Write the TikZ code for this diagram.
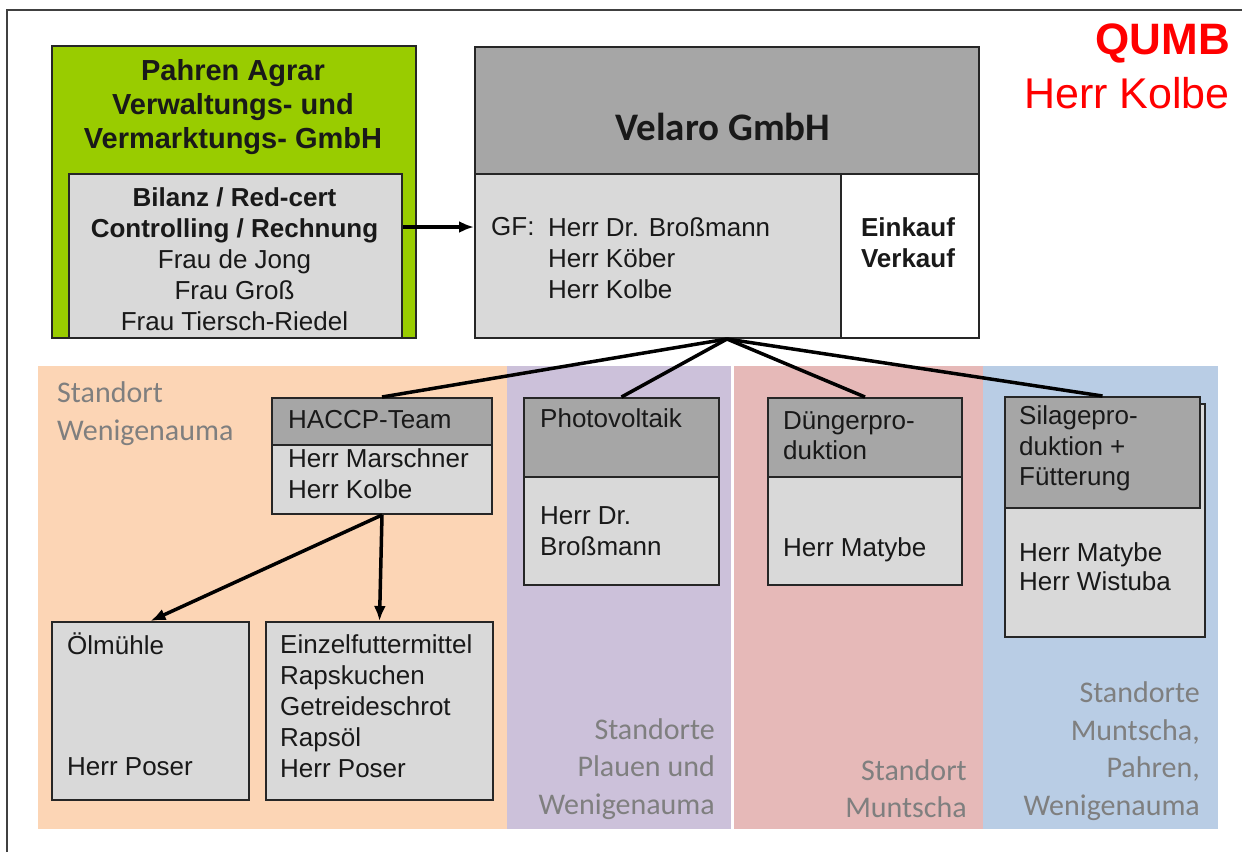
\documentclass[tikz,border=0pt]{standalone}
\usepackage{fontspec}
\setmainfont{Liberation Sans}
\newfontfamily\calibri{Carlito}
\usepackage{tikz}
\usetikzlibrary{arrows.meta}
\definecolor{agrargreen}{RGB}{153,204,0}
\definecolor{bodygray}{RGB}{217,217,217}
\definecolor{headgray}{RGB}{166,166,166}
\definecolor{bgorange}{RGB}{252,213,181}
\definecolor{bgpurple}{RGB}{204,193,218}
\definecolor{bgred}{RGB}{230,185,184}
\definecolor{bgblue}{RGB}{185,205,229}
\definecolor{placegray}{RGB}{127,127,127}
\definecolor{inkblack}{RGB}{25,25,25}
\newcommand{\boxfont}{\fontsize{26}{31}\selectfont}
\newcommand{\placefont}{\calibri\fontsize{30}{37.5}\selectfont}

\begin{document}
\begin{tikzpicture}[x=1pt,y=-1pt,
  box/.style={draw=black!85, line width=2pt, fill=bodygray, anchor=north west, inner sep=0pt},
  headbox/.style={box, fill=headgray},
  txt/.style={anchor=west, align=left, inner sep=0pt, font=\boxfont, text=inkblack},
  place/.style={inner sep=0pt, font=\placefont, text=placegray},
  link/.style={line width=3.5pt, black},
  pointer/.style={line width=3.5pt, black, -{Latex[length=15pt,width=12pt]}}]
\useasboundingbox (0,0) rectangle (1242,852);
\draw[line width=2pt, black!75] (7,852) -- (7,10) -- (1242,10);

% Standorte
\fill[bgorange] (38,366) rectangle (507,829);
\fill[bgpurple] (507,366) rectangle (731,829);
\fill[bgred] (734,366) rectangle (983,829);
\fill[bgblue] (983,366) rectangle (1218,829);
\node[place, anchor=west, align=left] (lblwen) at (57,413.5) {Standort\\Wenigenauma};
\node[place, anchor=east, align=right] (lblplauen) at (715,769) {Standorte\\Plauen und\\Wenigenauma};
\node[place, anchor=east, align=right] (lblmuntscha) at (967,788.5) {Standort\\Muntscha};
\node[place, anchor=east, align=right] (lblpahren) at (1200,751) {Standorte\\Muntscha,\\Pahren,\\Wenigenauma};

% QUMB
\node[inner sep=0pt, anchor=east, text=red, font=\bfseries\fontsize{44}{44}\selectfont] (qumb) at (1230,43) {QUMB};
\node[inner sep=0pt, anchor=east, text=red, font=\fontsize{43}{43}\selectfont] (qkolbe) at (1230,93) {Herr Kolbe};

% Pahren Agrar
\node[box, fill=agrargreen, minimum width=364, minimum height=292] (agrar) at (51,45) {};
\node[inner sep=0pt, align=center, text=inkblack, font=\bfseries\fontsize{29}{34}\selectfont] (agrartitle) at (233,107)
  {Pahren Agrar\\Verwaltungs- und\\Vermarktungs- GmbH};
\node[box, minimum width=333, minimum height=164] (bilanz) at (68,173) {};
\node[inner sep=0pt, align=center, text=inkblack, font=\boxfont] (bilanztext) at (234.5,259)
  {\textbf{Bilanz / Red-cert}\\\textbf{Controlling / Rechnung}\\Frau de Jong\\Frau Groß\\Frau Tiersch-Riedel};

% Velaro
\node[box, fill=white, minimum width=504, minimum height=291] (velaro) at (474,46) {};
\node[headbox, minimum width=504, minimum height=127] (velarohead) at (474,46) {};
\node[box, minimum width=366, minimum height=164] (velarogf) at (474,173) {};
\node[inner sep=0pt, text=inkblack, font=\calibri\bfseries\fontsize{39}{39}\selectfont] (velarotitle) at (723,127) {Velaro GmbH};
\node[txt] (gf) at (491,227) {GF:};
\node[txt] (gfnames) at (548,258) {Herr Dr. Broßmann\\Herr Köber\\Herr Kolbe};
\node[inner sep=0pt, align=center, text=inkblack, font=\boxfont\bfseries] (einkauf) at (908,242.5) {Einkauf\\Verkauf};

% Bereiche
\node[box, minimum width=220, minimum height=116] (haccp) at (271,397) {};
\node[headbox, minimum width=220, minimum height=47] (haccphead) at (271,397) {};
\node[txt] (haccptext) at (288,420) {HACCP-Team};
\node[txt] (haccpnames) at (288,473.5) {Herr Marschner\\Herr Kolbe};

\node[box, minimum width=195, minimum height=187] (pv) at (523,397) {};
\node[headbox, minimum width=195, minimum height=79] (pvhead) at (523,397) {};
\node[txt] (pvtext) at (540,418) {Photovoltaik};
\node[txt] (pvnames) at (540,531.5) {Herr Dr.\\Broßmann};

\node[box, minimum width=194, minimum height=187] (duenger) at (767,397) {};
\node[headbox, minimum width=194, minimum height=79] (duengerhead) at (767,397) {};
\node[txt, font=\fontsize{26}{29.5}\selectfont] (duengertext) at (783,435.5) {Düngerpro-\\duktion};
\node[txt] (duengernames) at (783,550) {Herr Matybe};

\node[box, minimum width=200, minimum height=233] (silage) at (1004,403) {};
\node[headbox, minimum width=195, minimum height=111] (silagehead) at (1004,396) {};
\node[txt, font=\fontsize{26}{30.5}\selectfont] (silagetext) at (1019,448.5) {Silagepro-\\duktion +\\Fütterung};
\node[txt, font=\fontsize{26}{29}\selectfont] (silagenames) at (1019,566.5) {Herr Matybe\\Herr Wistuba};

\node[box, minimum width=197, minimum height=178] (oel) at (51,621) {};
\node[txt] (oeltext) at (67,644) {Ölmühle};
\node[txt] (oelnames) at (67,767) {Herr Poser};

\node[box, minimum width=227, minimum height=178] (futter) at (265,621) {};
\node[txt] (futtertext) at (280,705.8) {Einzelfuttermittel\\Rapskuchen\\Getreideschrot\\Rapsöl\\Herr Poser};

% Verbindungen
\draw[pointer] (bilanz.east |- gf.west) -- (velaro.west |- gf.west);
\draw[link] (velaro.south) -- (haccphead.north);
\draw[link] (velaro.south) -- (pvhead.north);
\draw[link] (velaro.south) -- (duengerhead.north);
\draw[link] (velaro.south) -- (silagehead.north);
\draw[pointer] (haccp.south) -- (oel.north);
\draw[pointer] (haccp.south) -- (futter.north);
\end{tikzpicture}
\end{document}
